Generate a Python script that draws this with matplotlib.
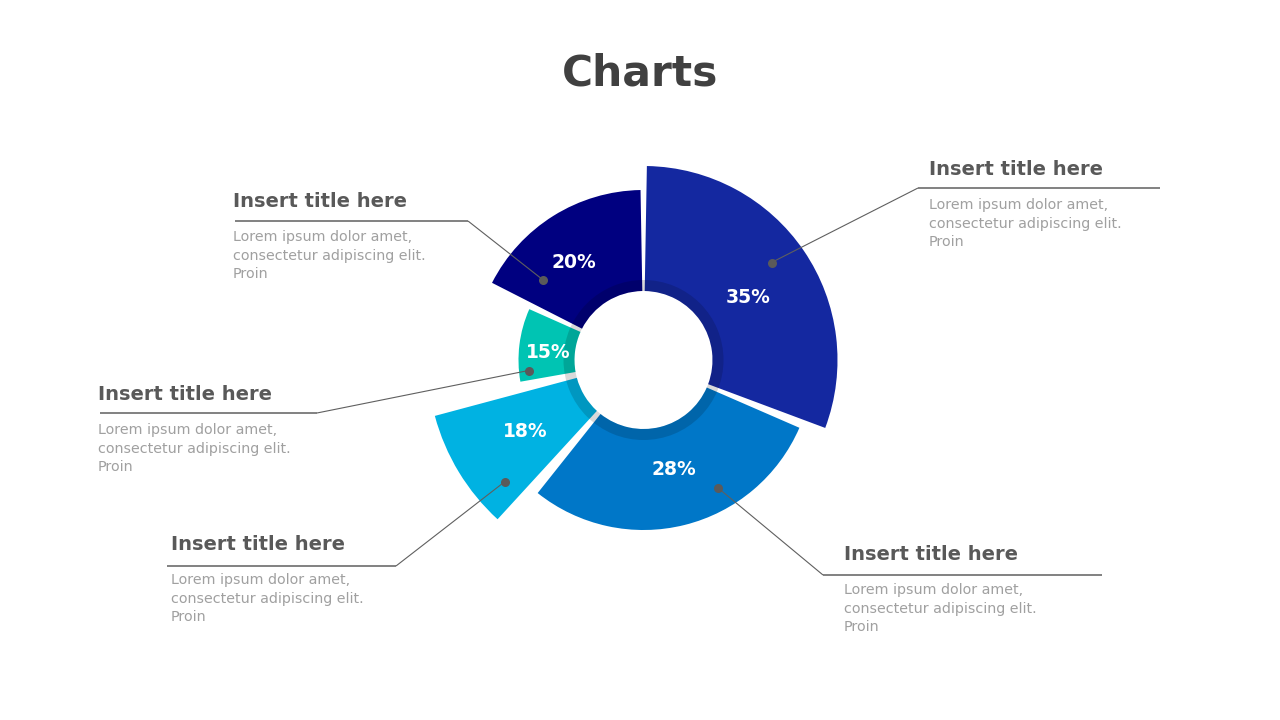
import matplotlib
matplotlib.use("Agg")
import matplotlib.pyplot as plt
import numpy as np

# ---------------- data ----------------
values = [35, 28, 18, 15, 20]
pct_labels = [f"{v}%" for v in values]
angular_span_deg = [109.5, 105.0, 32.5, 34.0, 62.0]
outer_radius = [194, 170, 216, 125, 170]
gap_after_deg = [3.0, 4.0, 5.0, 3.0, 2.0]
colors = ["#1428A0", "#0077C8", "#00B2E2", "#00C4B3", "#000080"]
item_title = "Insert title here"
item_body = ["Lorem ipsum dolor amet,", "consectetur adipiscing elit.", "Proin"]

# ---------------- layout ----------------
W, H = 1280, 720
cx, cy = 643.5, 360.0
RMAX = 230.0
INNER = 69.0
RING_W = 11.0
START_DEG = 89.0

fig = plt.figure(figsize=(W / 100, H / 100), dpi=100)
fig.patch.set_facecolor("white")

# polar axes: 1 data unit == 1 pixel
pax = fig.add_axes([(cx - RMAX) / W, (H - cy - RMAX) / H, 2 * RMAX / W, 2 * RMAX / H],
                   projection="polar")
pax.set_ylim(0, RMAX)
pax.axis("off")

starts = []
a = START_DEG
for span, gap in zip(angular_span_deg, gap_after_deg):
    starts.append(a)
    a = a - span - gap
centers = [np.deg2rad(s - sp / 2) for s, sp in zip(starts, angular_span_deg)]
widths = [np.deg2rad(sp) for sp in angular_span_deg]
heights = [r - INNER for r in outer_radius]
pax.bar(centers, heights, width=widths, bottom=INNER, color=colors,
        edgecolor="none", linewidth=0, align="center", zorder=2)
# translucent inner ring
pax.bar([0.0], [RING_W], width=[2 * np.pi], bottom=INNER, color="black",
        alpha=0.15, edgecolor="none", linewidth=0, zorder=3)

# overlay axes in pixel coordinates
ox = fig.add_axes([0, 0, 1, 1])
ox.set_xlim(0, W)
ox.set_ylim(H, 0)
ox.axis("off")
ox.patch.set_alpha(0)

ox.text(640, 85, "Charts", ha="center", va="baseline", fontsize=30.5,
        fontweight="bold", color="#404040", family="DejaVu Sans")

# percent labels (anchors in px)
label_pos = [(748, 303), (674, 475), (525.5, 437), (548.5, 357.5), (573.5, 268)]
for (x, y), t in zip(label_pos, pct_labels):
    ox.text(x, y, t, ha="center", va="baseline", fontsize=13.5,
            fontweight="bold", color="white", zorder=5)

# leaders: dot, elbow, end
leaders = [
    ((771.5, 262.5), (918, 188), (1160, 188)),
    ((717.5, 487.5), (823, 575), (1102, 575)),
    ((505, 481.5), (396, 566), (167, 566)),
    ((528.5, 370.5), (317, 413), (100, 413)),
    ((542.5, 279.5), (468, 221), (235, 221)),
]
text_x = [929, 844, 171, 98, 233]
title_base = [175, 560, 550, 400, 207]
LINE_GRAY = "#5F5F5F"
for (d, e, f), tx, tb in zip(leaders, text_x, title_base):
    ox.plot([d[0], e[0]], [d[1], e[1]], color=LINE_GRAY, lw=0.8, zorder=6,
            solid_capstyle="butt")
    ox.plot([e[0], f[0]], [e[1], f[1]], color=LINE_GRAY, lw=1.1, zorder=6,
            solid_capstyle="butt")
    ox.plot([d[0]], [d[1]], "o", ms=6.5, color="#5A5A5A", mec="none", zorder=7)
    ox.text(tx, tb, item_title, ha="left", va="baseline", fontsize=14,
            fontweight="bold", color="#595959")
    for i, line in enumerate(item_body):
        ox.text(tx, tb + 34 + i * 18.7, line, ha="left", va="baseline",
                fontsize=10.3, color="#A0A0A0")

fig.savefig("out.png", dpi=100, facecolor="white")
